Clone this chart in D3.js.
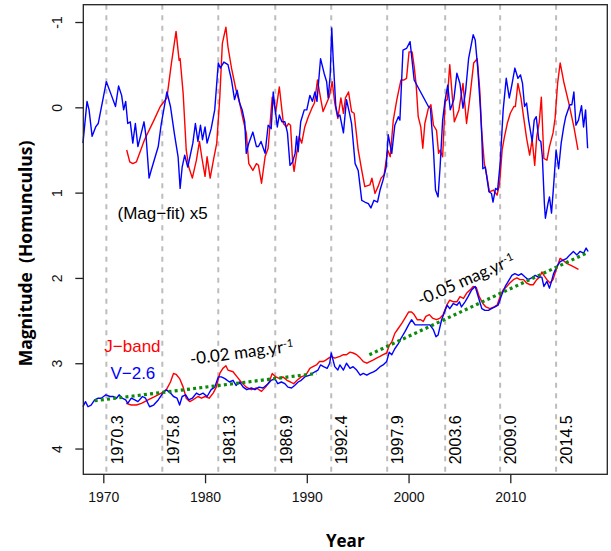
<!DOCTYPE html>
<html>
<head>
<meta charset="utf-8">
<script src="https://cdn.jsdelivr.net/npm/d3@7"></script>
<style>
  body { margin: 0; background: #fff; }
  text { font-family: "Liberation Sans", Arial, sans-serif; }
</style>
</head>
<body>
<svg class="chart"></svg>
<script>
// -------------------- Data --------------------
// [year, magnitude]

// (Mag - fit) x5, V band (blue)
var vTop = [[1968.0,0.42],[1968.4,-0.07],[1968.6,0.03],[1968.9,0.34],[1969.25,0.23],[1969.5,0.19],
  [1970.3,-0.30],[1970.8,-0.14],[1971.2,-0.01],[1971.5,-0.25],[1971.8,-0.14],[1972.0,0.03],[1972.2,-0.07],
  [1972.4,0.19],[1972.65,0.17],[1972.9,0.42],[1973.15,0.19],[1973.4,0.46],[1973.65,0.34],[1974.0,0.17],
  [1974.2,0.34],[1974.5,0.83],[1974.7,0.74],[1975.4,0.46],[1975.7,0.19],[1976.0,-0.01],[1976.25,-0.18],
  [1976.6,-0.01],[1977.0,0.32],[1977.35,0.58],[1977.55,0.95],[1977.75,0.70],[1978.0,0.56],[1978.3,0.70],
  [1978.8,0.42],[1979.05,0.19],[1979.3,0.40],[1979.55,0.21],[1979.75,0.38],[1980.0,0.23],[1980.2,0.42],
  [1980.6,0.25],[1980.95,0.03],[1981.3,-0.52],[1981.5,-0.46],[1981.85,-0.53],[1982.25,-0.50],[1982.6,-0.32],
  [1982.9,-0.09],[1983.15,-0.20],[1983.4,-0.05],[1983.65,0.03],[1983.9,0.17],[1984.05,0.54],[1984.3,0.42],
  [1984.7,0.29],[1985.05,0.46],[1985.25,0.46],[1985.5,0.40],[1985.9,0.54],[1986.2,0.21],[1986.5,0.25],
  [1986.7,-0.18],[1986.9,0.03],[1987.1,0.23],[1987.3,0.09],[1987.55,0.17],[1987.85,0.17],[1988.1,0.30],
  [1988.35,0.68],[1988.6,0.64],[1988.85,0.54],[1989.0,0.34],[1989.15,0.52],[1989.4,0.17],[1989.75,0.03],
  [1990.0,0.03],[1990.3,-0.14],[1990.55,-0.07],[1990.8,-0.18],[1991.0,-0.07],[1991.35,-0.57],[1991.7,-0.40],
  [1991.95,-0.30],[1992.1,-0.11],[1992.3,-0.38],[1992.45,-0.93],[1992.6,-0.55],[1992.85,-0.01],[1993.05,0.11],
  [1993.25,0.09],[1993.6,0.30],[1993.9,-0.09],[1994.2,0.07],[1994.4,0.19],[1994.75,0.66],[1995.05,0.74],
  [1995.4,1.09],[1995.7,1.11],[1996.05,1.13],[1996.3,1.18],[1996.6,1.09],[1996.95,1.11],[1997.2,0.97],
  [1997.5,0.85],[1997.8,0.70],[1998.0,0.32],[1998.35,0.54],[1998.65,0.21],[1999.0,0.11],[1999.15,0.15],
  [1999.45,-0.67],[1999.8,-0.69],[2000.15,-0.77],[2000.55,-0.32],[2001.95,-0.01],[2002.15,0.01],[2002.45,0.50],
  [2002.65,0.97],[2002.9,1.05],[2003.1,0.70],[2003.35,0.15],[2003.6,-0.09],[2003.85,-0.26],[2004.1,0.03],
  [2004.45,-0.09],[2004.75,-0.40],[2005.05,-0.28],[2005.35,0.01],[2005.6,-0.18],[2005.9,-0.57],[2006.35,-0.85],
  [2006.55,-0.79],[2006.8,-0.46],[2007.05,-0.01],[2007.2,0.34],[2007.3,0.72],[2007.55,0.70],[2007.9,0.99],
  [2008.15,1.01],[2008.3,1.11],[2008.55,0.95],[2008.75,0.97],[2009.0,0.66],[2009.3,0.03],[2009.6,-0.34],
  [2009.9,-0.11],[2010.15,-0.26],[2010.45,-0.46],[2010.75,-0.34],[2011.0,-0.38],[2011.2,-0.28],[2011.4,-0.01],
  [2011.6,-0.05],[2011.8,0.15],[2012.15,0.40],[2012.35,0.15],[2012.55,0.11],[2012.8,0.38],[2013.0,0.40],
  [2013.15,0.58],[2013.35,1.13],[2013.45,1.30],[2013.7,1.13],[2013.85,1.05],[2014.05,1.24],[2014.25,0.93],
  [2014.5,0.50],[2014.75,0.72],[2015.0,0.42],[2015.25,0.23],[2015.45,0.11],[2015.85,-0.03],[2016.05,-0.03],
  [2016.25,-0.18],[2016.45,0.21],[2016.7,0.15],[2017.0,-0.02],[2017.2,0.23],[2017.4,0.03],[2017.6,0.48]];

// (Mag - fit) x5, J band (red)
var jTop = [[1972.3,0.50],[1972.6,0.64],[1972.9,0.66],[1973.25,0.64],[1974.05,0.38],[1974.9,0.17],
  [1975.6,-0.01],[1976.25,-0.11],[1976.7,-0.52],[1977.15,-0.89],[1977.45,-0.55],[1977.55,-0.57],[1977.85,-0.16],
  [1978.15,0.50],[1978.4,0.70],[1978.75,0.83],[1979.15,0.62],[1979.45,0.40],[1979.7,0.60],[1980.0,0.81],
  [1980.2,0.58],[1980.5,0.83],[1980.85,0.60],[1981.15,0.42],[1981.45,-0.12],[1981.7,-0.75],[1982.05,-0.94],
  [1982.25,-0.71],[1982.6,-0.46],[1983.05,-0.20],[1983.4,-0.05],[1983.75,0.15],[1984.05,0.30],[1984.3,0.66],
  [1984.7,0.74],[1985.05,0.66],[1985.25,0.68],[1985.55,0.89],[1985.9,0.58],[1986.2,0.48],[1986.6,-0.12],
  [1986.95,0.05],[1987.3,-0.24],[1987.7,0.19],[1988.0,0.23],[1988.2,0.19],[1988.4,0.21],[1988.6,0.62],
  [1988.75,0.75],[1989.0,0.54],[1989.25,0.34],[1989.5,0.42],[1989.8,0.23],[1990.15,0.11],[1990.5,0.01],
  [1990.75,-0.05],[1991.05,-0.32],[1991.35,-0.11],[1991.6,0.05],[1991.95,-0.05],[1992.2,-0.12],[1992.5,-0.30],
  [1992.75,-0.05],[1993.05,0.13],[1993.35,-0.11],[1993.6,0.07],[1993.8,-0.11],[1994.1,-0.18],[1994.4,0.05],
  [1994.65,0.07],[1995.05,0.50],[1995.4,0.74],[1995.7,0.93],[1996.2,0.91],[1996.4,0.83],[1996.7,1.01],
  [1997.0,0.93],[1997.3,0.83],[1997.6,0.79],[1997.95,0.50],[1998.2,0.58],[1998.5,0.15],[1998.85,-0.09],
  [1999.25,-0.32],[1999.55,-0.32],[1999.8,-0.34],[2000.05,-0.65],[2000.35,-0.65],[2000.55,-0.48],[2000.75,-0.26],
  [2000.95,0.11],[2001.2,0.23],[2001.4,0.48],[2001.6,0.19],[2001.95,0.01],[2002.2,-0.03],[2002.45,0.21],
  [2002.75,0.27],[2002.95,0.54],[2003.1,0.50],[2003.35,0.58],[2003.6,-0.07],[2003.8,-0.09],[2004.05,-0.50],
  [2004.25,-0.20],[2004.5,0.17],[2004.95,0.03],[2005.35,-0.28],[2005.7,0.19],[2006.0,-0.09],[2006.4,-0.52],
  [2006.75,-0.57],[2007.0,-0.20],[2007.2,0.30],[2007.45,0.66],[2007.7,0.81],[2007.95,0.99],[2008.35,0.97],
  [2008.7,1.03],[2008.95,0.89],[2009.2,0.50],[2009.4,0.36],[2009.7,0.19],[2010.0,0.07],[2010.35,-0.01],
  [2010.5,-0.01],[2010.75,-0.28],[2011.05,-0.11],[2011.3,0.11],[2011.6,0.36],[2011.9,0.56],[2012.15,0.38],
  [2012.4,0.68],[2012.6,0.34],[2012.85,0.17],[2013.05,-0.12],[2013.3,0.60],[2013.6,0.62],[2013.85,0.46],
  [2014.2,0.30],[2014.4,0.13],[2014.65,-0.28],[2014.9,-0.52],[2015.25,-0.30],[2015.75,-0.05],[2016.25,0.23],
  [2016.65,0.50]];

// V - 2.6 (blue)
var vBot = [[1968.0,3.51],[1968.25,3.45],[1968.5,3.51],[1968.8,3.49],[1969.15,3.43],[1969.5,3.41],
  [1969.8,3.41],[1970.25,3.37],[1970.65,3.39],[1971.0,3.39],[1971.3,3.41],[1971.55,3.37],[1971.85,3.41],
  [1972.2,3.43],[1972.4,3.47],[1972.75,3.41],[1973.1,3.43],[1973.4,3.45],[1973.85,3.39],[1974.15,3.41],
  [1974.55,3.51],[1974.95,3.49],[1975.4,3.43],[1975.85,3.35],[1976.2,3.31],[1976.6,3.35],[1976.9,3.39],
  [1977.25,3.41],[1977.5,3.49],[1977.75,3.39],[1978.1,3.37],[1978.4,3.43],[1978.75,3.41],[1979.15,3.35],
  [1979.45,3.37],[1979.8,3.35],[1980.2,3.39],[1980.6,3.31],[1980.95,3.28],[1981.3,3.16],[1981.6,3.16],
  [1981.95,3.18],[1982.4,3.22],[1982.75,3.20],[1983.05,3.26],[1983.4,3.22],[1983.75,3.28],[1984.1,3.31],
  [1984.55,3.29],[1984.9,3.31],[1985.3,3.28],[1985.7,3.29],[1986.2,3.24],[1986.5,3.20],[1986.85,3.18],
  [1987.15,3.24],[1987.5,3.22],[1987.85,3.24],[1988.15,3.28],[1988.5,3.29],[1988.8,3.26],[1989.15,3.22],
  [1989.45,3.20],[1989.8,3.16],[1990.3,3.14],[1990.8,3.10],[1991.1,3.08],[1991.35,3.02],[1991.65,3.04],
  [1992.0,3.06],[1992.25,3.00],[1992.4,2.88],[1992.75,3.04],[1993.05,3.08],[1993.25,3.02],[1993.6,3.08],
  [1993.9,3.00],[1994.25,3.06],[1994.55,3.04],[1994.9,3.08],[1995.25,3.14],[1995.55,3.12],[1995.9,3.14],
  [1996.2,3.12],[1996.55,3.10],[1996.85,3.08],[1997.2,3.04],[1997.5,3.02],[1997.85,2.98],[1998.1,2.87],
  [1998.35,2.90],[1998.65,2.83],[1999.0,2.77],[1999.25,2.71],[1999.65,2.63],[2000.0,2.55],[2000.3,2.49],
  [2000.65,2.55],[2001.15,2.55],[2001.6,2.55],[2002.1,2.55],[2002.45,2.61],[2002.7,2.69],[2002.9,2.67],
  [2003.25,2.49],[2003.6,2.38],[2003.8,2.32],[2004.05,2.36],[2004.4,2.30],[2004.75,2.32],[2005.0,2.28],
  [2005.2,2.34],[2005.55,2.28],[2005.85,2.22],[2006.2,2.14],[2006.55,2.10],[2006.85,2.22],[2007.2,2.36],
  [2007.5,2.38],[2007.85,2.38],[2008.15,2.36],[2008.5,2.34],[2008.8,2.32],[2009.15,2.20],[2009.5,2.10],
  [2009.8,2.04],[2010.15,1.97],[2010.45,1.95],[2010.8,1.97],[2011.1,1.95],[2011.45,1.99],[2011.75,2.02],
  [2012.1,2.00],[2012.45,1.97],[2012.75,1.99],[2013.1,1.99],[2013.3,2.10],[2013.6,2.04],[2013.85,2.12],
  [2014.05,2.04],[2014.25,1.95],[2014.55,1.87],[2014.9,1.81],[2015.2,1.79],[2015.55,1.77],[2015.85,1.73],
  [2016.2,1.69],[2016.55,1.73],[2016.85,1.69],[2017.2,1.71],[2017.45,1.65],[2017.65,1.69]];

// J band (red)
var jBot = [[1972.25,3.47],[1972.75,3.49],[1973.25,3.49],[1973.75,3.47],[1974.4,3.43],[1975.05,3.39],
  [1975.7,3.35],[1976.2,3.31],[1976.6,3.22],[1976.9,3.12],[1977.15,3.13],[1977.5,3.18],[1977.85,3.28],
  [1978.15,3.41],[1978.5,3.45],[1978.8,3.43],[1979.3,3.39],[1979.65,3.41],[1980.0,3.39],[1980.4,3.41],
  [1980.8,3.35],[1981.1,3.28],[1981.45,3.12],[1981.75,3.06],[1982.05,3.03],[1982.25,3.08],[1982.75,3.10],
  [1983.15,3.16],[1983.55,3.22],[1984.05,3.28],[1984.55,3.31],[1985.05,3.29],[1985.55,3.33],[1985.95,3.28],
  [1986.3,3.22],[1986.6,3.12],[1986.95,3.16],[1987.35,3.18],[1987.65,3.16],[1988.05,3.20],[1988.4,3.22],
  [1988.7,3.24],[1989.05,3.20],[1989.45,3.16],[1989.9,3.14],[1990.3,3.06],[1990.6,3.04],[1990.95,3.02],
  [1991.25,2.98],[1991.6,2.98],[1991.9,2.96],[1992.4,2.92],[1992.75,2.94],[1993.25,2.92],[1993.6,2.90],
  [1993.9,2.90],[1994.25,2.87],[1994.55,2.88],[1994.9,2.90],[1995.25,2.94],[1995.55,2.98],[1995.9,3.00],
  [1996.2,2.98],[1996.55,2.96],[1996.85,2.94],[1997.2,2.92],[1997.5,2.90],[1997.85,2.88],[1998.1,2.79],
  [1998.35,2.75],[1998.65,2.65],[1999.0,2.59],[1999.35,2.53],[1999.65,2.47],[2000.0,2.40],[2000.3,2.40],
  [2000.55,2.43],[2000.85,2.49],[2001.2,2.49],[2001.45,2.51],[2001.7,2.45],[2002.05,2.43],[2002.35,2.47],
  [2002.75,2.49],[2003.1,2.47],[2003.4,2.43],[2003.75,2.32],[2004.05,2.26],[2004.4,2.28],[2004.75,2.28],
  [2005.05,2.22],[2005.4,2.24],[2005.7,2.18],[2006.05,2.14],[2006.35,2.10],[2006.65,2.11],[2006.95,2.22],
  [2007.3,2.30],[2007.6,2.34],[2008.0,2.36],[2008.4,2.34],[2008.7,2.32],[2009.05,2.20],[2009.3,2.14],
  [2009.65,2.10],[2009.95,2.06],[2010.3,2.02],[2010.65,2.00],[2010.95,2.02],[2011.3,2.02],[2011.6,2.06],
  [2011.95,2.08],[2012.25,2.08],[2012.6,2.02],[2012.9,1.99],[2013.1,1.93],[2013.3,1.97],[2013.6,2.02],
  [2013.9,2.06],[2014.2,2.02],[2014.55,1.89],[2014.9,1.77],[2015.15,1.79],[2015.55,1.83],[2016.05,1.86],
  [2016.7,1.90]];

// linear trends (green dotted)
var trend1 = [[1969.15,3.44],[1990.95,3.12]];
var trend2 = [[1996.15,2.90],[2017.65,1.70]];

// eruption / periastron epochs (grey dashed)
var epochs = [1970.3, 1975.8, 1981.3, 1986.9, 1992.4, 1997.9, 2003.6, 2009.0, 2014.5];

var xTicks = [1970, 1980, 1990, 2000, 2010];
var yTicks = [-1, 0, 1, 2, 3, 4];


// -------------------- Settings --------------------
var W = 611, H = 551;
var margin = {top: 4.7, right: 3.7, bottom: 76.7, left: 83.3}
  , width = W - margin.left - margin.right
  , height = H - margin.top - margin.bottom;

var svg = d3.select(".chart")
  .attr("width", W)
  .attr("height", H);

var chart = svg.append("g")
  .attr("transform", "translate(" + margin.left + "," + margin.top + ")");

// -------------------- Scales --------------------
var x = d3.scaleLinear().domain([1968.034, 2019.533]).range([0, width]);
// magnitudes: brighter is up
var y = d3.scaleLinear().domain([-1.203, 4.302]).range([0, height]);

// -------------------- Epoch lines --------------------
chart.selectAll(".epoch")
  .data(epochs)
  .enter().append("line")
    .attr("class", "epoch")
    .attr("x1", function(d) { return x(d); })
    .attr("x2", function(d) { return x(d); })
    .attr("y1", 0)
    .attr("y2", height)
    .attr("stroke", "#bdbdbd")
    .attr("stroke-width", 2)
    .attr("stroke-dasharray", "5,5.5");

chart.selectAll(".epochLabel")
  .data(epochs)
  .enter().append("text")
    .attr("class", "epochLabel")
    .attr("transform", function(d) {
      return "translate(" + (x(d) + 10.5) + "," + (height - 10) + ") rotate(-90)";
    })
    .attr("dy", "0.36em")
    .style("font-size", "16px")
    .text(function(d) { return d.toFixed(1); });

// -------------------- Series --------------------
var line = d3.line()
  .x(function(d) { return x(d[0]); })
  .y(function(d) { return y(d[1]); });

[[jTop, "#ff0000"], [vTop, "#0000ff"], [jBot, "#ff0000"], [vBot, "#0000ff"]].forEach(function(s) {
  chart.append("path")
    .datum(s[0])
    .attr("fill", "none")
    .attr("stroke", s[1])
    .attr("stroke-width", 1.4)
    .attr("stroke-linejoin", "round")
    .attr("d", line);
});

[trend1, trend2].forEach(function(t) {
  chart.append("path")
    .datum(t)
    .attr("fill", "none")
    .attr("stroke", "#0b8a0b")
    .attr("stroke-width", 3.2)
    .attr("stroke-dasharray", "3,3.2")
    .attr("d", line);
});

// -------------------- Box and axes --------------------
chart.append("rect")
  .attr("width", width)
  .attr("height", height)
  .attr("fill", "none")
  .attr("stroke", "#222")
  .attr("stroke-width", 1.3);

var xAxis = d3.axisBottom(x).tickValues(xTicks).tickFormat(d3.format("d"))
  .tickSize(9).tickPadding(9);
var gx = chart.append("g")
  .attr("transform", "translate(0," + height + ")")
  .call(xAxis);
gx.select(".domain").remove();
gx.selectAll("text").style("font-size", "14px").attr("fill", "#111")
  .style("font-family", "Liberation Sans, Arial, sans-serif");
gx.selectAll("line").attr("stroke", "#222").attr("stroke-width", 1.3);

var yAxis = d3.axisLeft(y).tickValues(yTicks).tickFormat(function(d) { return d; })
  .tickSize(8);
var gy = chart.append("g").call(yAxis);
gy.select(".domain").remove();
gy.selectAll("line").attr("stroke", "#222").attr("stroke-width", 1.3);
gy.selectAll("text")
  .attr("x", null).attr("dy", "0.36em")
  .attr("text-anchor", "middle")
  .attr("transform", "translate(-26,0) rotate(-90)")
  .style("font-size", "14px").attr("fill", "#111")
  .style("font-family", "Liberation Sans, Arial, sans-serif");

// axis titles
svg.append("text")
  .attr("x", margin.left + width / 2)
  .attr("y", 547)
  .attr("text-anchor", "middle")
  .style("font-family", "'Open Sans', sans-serif")
  .style("font-weight", "bold")
  .style("font-size", "17px")
  .text("Year");

svg.append("text")
  .attr("transform", "translate(31.5,253.5) rotate(-90)")
  .attr("text-anchor", "middle")
  .style("font-family", "'Open Sans', sans-serif")
  .style("font-weight", "bold")
  .style("font-size", "17.5px")
  .text("Magnitude\u00a0 (Homunculus)");

// -------------------- Annotations --------------------
chart.append("text")
  .attr("x", x(1971.4)).attr("y", y(1.31))
  .style("font-size", "17px")
  .text("(Mag\u2212fit) x5");

chart.append("text")
  .attr("x", x(1970.1)).attr("y", y(2.87))
  .attr("fill", "#ff0000")
  .style("font-size", "17px")
  .text("J\u2212band");

chart.append("text")
  .attr("x", x(1970.7)).attr("y", y(3.18))
  .attr("fill", "#0000ff")
  .style("font-size", "17px")
  .text("V\u22122.6");

function rate(x0, y0, angle, value) {
  var t = chart.append("text")
    .attr("transform", "translate(" + x(x0) + "," + y(y0) + ") rotate(" + angle + ")")
    .style("font-family", "Lato, 'Open Sans', sans-serif")
    .style("font-size", "17px");
  t.append("tspan").text(value + " mag.yr");
  t.append("tspan").attr("dy", "-0.45em").style("font-size", "11px").text("-1");
}
rate(1978.6, 3.02, -7.5, "-0.02");
rate(2001.2, 2.33, -24, "-0.05");
</script>
</body>
</html>
